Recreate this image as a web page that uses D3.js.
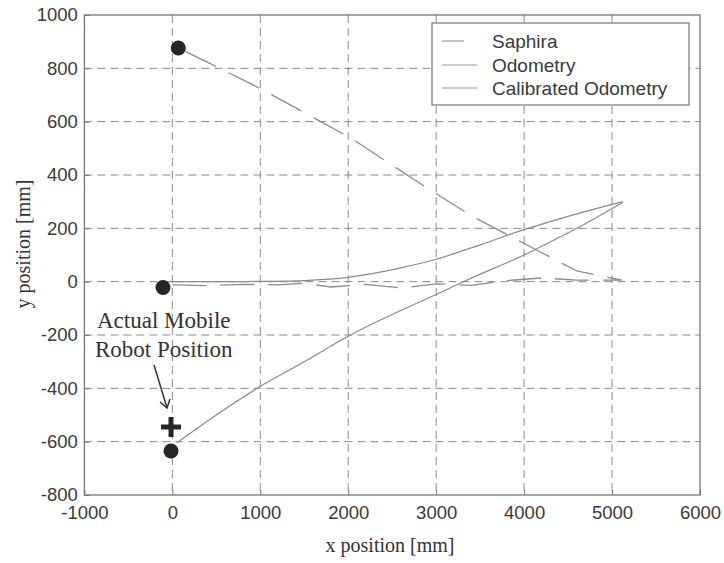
<!DOCTYPE html>
<html>
<head>
<meta charset="utf-8">
<script src="https://cdn.jsdelivr.net/npm/d3@7"></script>
<style>
  body { margin: 0; background: #fff; }
  svg { display: block; }
</style>
</head>
<body>
<div id="chart"></div>
<script>
// Robot path comparison: Saphira vs odometry vs calibrated odometry

const xTicks = [-1000, 0, 1000, 2000, 3000, 4000, 5000, 6000];
const yTicks = [-800, -600, -400, -200, 0, 200, 400, 600, 800, 1000];

const seriesNames = ["Saphira", "Odometry", "Calibrated Odometry"];

// Saphira: out along y~0, then back up to the top-left
const saphiraX = [0, 400, 800, 1200, 1500, 1800, 2200, 2600, 3000, 3400, 3800, 4200, 4600, 5112,
                  4600, 3990, 3421, 2898, 2045, 1487, 918, 374, 68];
const saphiraY = [-12, -15, -10, -12, -6, -20, -10, -24, -8, -14, 4, 14, 6, 6,
                  40, 145, 243, 351, 535, 637, 738, 827, 876];

const odoX = [-30, 500, 1000, 1500, 1900, 2300, 2600, 3000, 3500, 4000, 4500, 5124];
const odoY = [0, 0, 1, 4, 12, 32, 52, 84, 138, 195, 245, 300];

const calX = [53, 500, 998, 1500, 2000, 2366, 3000, 3351, 4000, 4182, 4600, 5124];
const calY = [-604, -500, -393, -300, -205, -144, -48, 6, 100, 130, 200, 298];

// end-point dots and actual robot position
const dotX = [68, -106, -15];
const dotY = [876, -22, -635];
const actualX = [-15];
const actualY = [-545];

const W = 724, H = 563;
const svg = d3.select("#chart").append("svg")
    .attr("width", W).attr("height", H);

const x = d3.scaleLinear().domain([-1000, 6000]).range([84.4, 700]);
const y = d3.scaleLinear().domain([-800, 1000]).range([495, 15]);

const gridColor = "#8a8a8a";
const lineColor = "#8c8c8c";

// Grid
svg.append("g").selectAll("line")
    .data(xTicks.slice(1, -1)).enter().append("line")
    .attr("x1", d => x(d)).attr("x2", d => x(d))
    .attr("y1", y(1000)).attr("y2", y(-800))
    .attr("stroke", gridColor).attr("stroke-width", 1)
    .attr("stroke-dasharray", "8,5");
svg.append("g").selectAll("line")
    .data(yTicks.slice(1, -1)).enter().append("line")
    .attr("x1", x(-1000)).attr("x2", x(6000))
    .attr("y1", d => y(d)).attr("y2", d => y(d))
    .attr("stroke", gridColor).attr("stroke-width", 1)
    .attr("stroke-dasharray", "8,5");

// Axes
const tickFont = "'Liberation Sans', Arial, sans-serif";
const plain = d => String(d);
svg.append("g")
    .attr("transform", `translate(0,${y(-800)})`)
    .call(d3.axisBottom(x).tickValues(xTicks).tickSizeInner(-5).tickSizeOuter(0).tickPadding(11).tickFormat(plain))
    .call(g => g.selectAll("text").attr("fill", "#3a3a3a").style("font-size", "18.5px").style("font-family", tickFont))
    .call(g => g.selectAll("line").attr("stroke", "#777"))
    .call(g => g.select(".domain").remove());
svg.append("g")
    .attr("transform", `translate(${x(-1000)},0)`)
    .call(d3.axisLeft(y).tickValues(yTicks).tickSizeInner(-5).tickSizeOuter(0).tickPadding(6.5).tickFormat(plain))
    .call(g => g.selectAll("text").attr("fill", "#3a3a3a").style("font-size", "18.5px").style("font-family", tickFont))
    .call(g => g.selectAll("line").attr("stroke", "#777"))
    .call(g => g.select(".domain").remove());

// Frame
svg.append("rect")
    .attr("x", x(-1000)).attr("y", y(1000))
    .attr("width", x(6000) - x(-1000)).attr("height", y(-800) - y(1000))
    .attr("fill", "none").attr("stroke", "#777").attr("stroke-width", 1.3);

// Paths
const line = d3.line().x(d => x(d[0])).y(d => y(d[1]));
const zip = (a, b) => a.map((v, i) => [v, b[i]]);

svg.append("path").datum(zip(saphiraX, saphiraY))
    .attr("d", line).attr("fill", "none")
    .attr("stroke", lineColor).attr("stroke-width", 1.3)
    .attr("stroke-dasharray", "34,14");
svg.append("path").datum(zip(odoX, odoY))
    .attr("d", line.curve(d3.curveCatmullRom)).attr("fill", "none")
    .attr("stroke", "#8a8a8a").attr("stroke-width", 1.2);
svg.append("path").datum(zip(calX, calY))
    .attr("d", line.curve(d3.curveCatmullRom)).attr("fill", "none")
    .attr("stroke", "#8a8a8a").attr("stroke-width", 1.2);

// Dots
svg.append("g").selectAll("circle")
    .data(zip(dotX, dotY)).enter().append("circle")
    .attr("cx", d => x(d[0])).attr("cy", d => y(d[1]))
    .attr("r", 7.5).attr("fill", "#262626");

// Actual position cross
const cross = svg.append("g").selectAll("g")
    .data(zip(actualX, actualY)).enter().append("g")
    .attr("transform", d => `translate(${x(d[0])},${y(d[1])})`);
cross.append("line").attr("x1", -10).attr("x2", 10).attr("y1", 0).attr("y2", 0)
    .attr("stroke", "#262626").attr("stroke-width", 5);
cross.append("line").attr("x1", 0).attr("x2", 0).attr("y1", -10).attr("y2", 10)
    .attr("stroke", "#262626").attr("stroke-width", 5);

// Annotation
const serif = "'Liberation Serif', 'Times New Roman', serif";
svg.append("text").attr("x", 97).attr("y", 328)
    .attr("fill", "#333").style("font-family", serif).style("font-size", "23px")
    .text("Actual Mobile");
svg.append("text").attr("x", 95).attr("y", 357)
    .attr("fill", "#333").style("font-family", serif).style("font-size", "23px")
    .text("Robot Position");

// arrow toward the cross
const ax = x(actualX[0]), ay = y(actualY[0]);
svg.append("line")
    .attr("x1", ax - 17).attr("y1", ay - 62)
    .attr("x2", ax - 4).attr("y2", ay - 19)
    .attr("stroke", "#333").attr("stroke-width", 1.5);
svg.append("path")
    .attr("d", `M${ax - 11},${ay - 25} L${ax - 4},${ay - 19} L${ax - 1},${ay - 28}`)
    .attr("fill", "none").attr("stroke", "#333").attr("stroke-width", 1.5);

// Axis labels
svg.append("text").attr("x", 390).attr("y", 552).attr("text-anchor", "middle")
    .attr("fill", "#333").style("font-family", serif).style("font-size", "20px")
    .text("x position [mm]");
svg.append("text")
    .attr("transform", "translate(30,244) rotate(-90)")
    .attr("text-anchor", "middle")
    .attr("fill", "#333").style("font-family", serif).style("font-size", "20px")
    .text("y position [mm]");

// Legend
const legend = svg.append("g");
legend.append("rect")
    .attr("x", 432).attr("y", 23).attr("width", 257).attr("height", 82)
    .attr("fill", "#fff").attr("stroke", "#777").attr("stroke-width", 1.2);
const legY = [41, 65, 88];
legend.selectAll("line.sample")
    .data(seriesNames).enter().append("line")
    .attr("x1", 442).attr("x2", (d, i) => i === 0 ? 464 : 477)
    .attr("y1", (d, i) => legY[i]).attr("y2", (d, i) => legY[i])
    .attr("stroke", "#999").attr("stroke-width", 1.2);
legend.selectAll("text")
    .data(seriesNames).enter().append("text")
    .attr("x", 492).attr("y", (d, i) => legY[i]).attr("dy", "0.35em")
    .attr("fill", "#3a3a3a").style("font-family", tickFont).style("font-size", "19px")
    .text(d => d);
</script>
</body>
</html>
